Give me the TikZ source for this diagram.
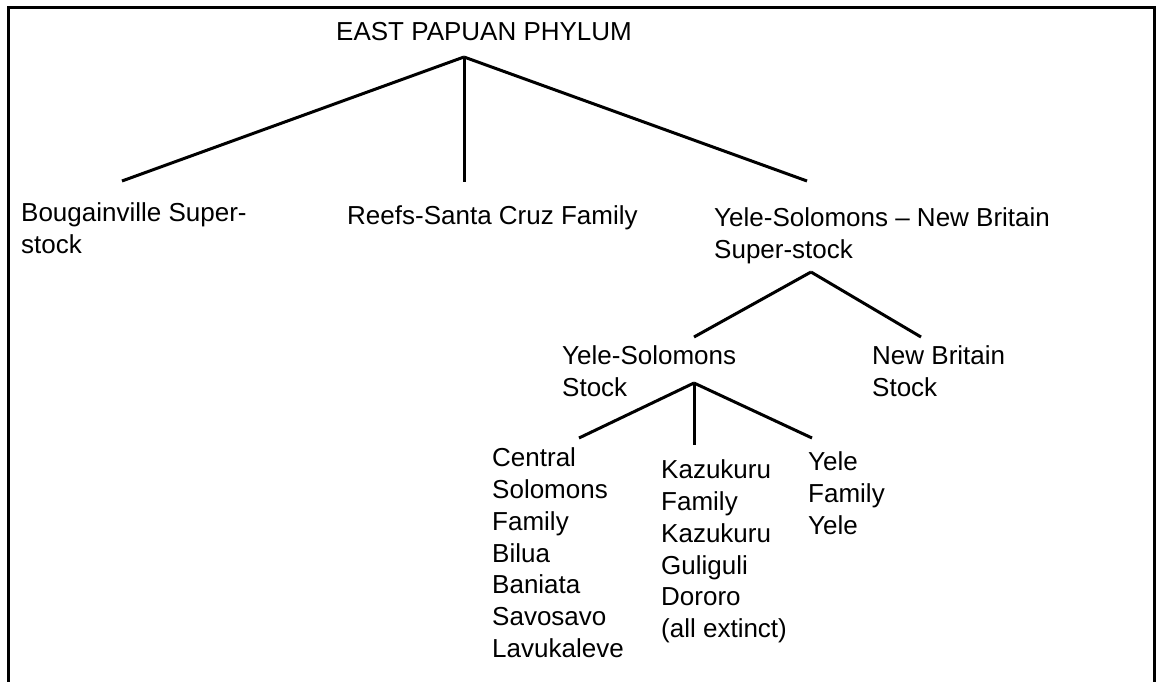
\documentclass[tikz,border=0pt]{standalone}
\usepackage{fontspec}
\setmainfont{Liberation Sans}

\begin{document}
\begin{tikzpicture}[x=1pt, y=-1pt,
		lbl/.style={anchor=north west, inner sep=0pt, align=left, yshift=22.26pt,
			font=\fontsize{26}{31.8}\selectfont, execute at begin node=\strut},
		branch/.style={line width=3pt}]
	\useasboundingbox (0,0) rectangle (1156,682);
	\draw[line width=3pt] (8.5,690) |- (1154.5,8) -- (1154.5,690);
	
	\node[lbl] (EP) at (336,40) {EAST PAPUAN PHYLUM};
	\node[lbl] (B) at (21,225) {Bougainville Super-\\stock};
	\node[lbl] (RSC) at (347,224) {Reefs-Santa Cruz Family};
	\node[lbl] (YSNB) at (714,230) {Yele-Solomons -- New Britain\\Super-stock};
	\node[lbl] (YS) at (562,368) {Yele-Solomons\\Stock};
	\node[lbl] (NB) at (872,368) {New Britain\\Stock};
	\node[lbl] (CS) at (492,470) {Central\\Solomons\\Family\\Bilua\\Baniata\\Savosavo\\Lavukaleve};
	\node[lbl] (K) at (661,482) {Kazukuru\\Family\\Kazukuru\\Guliguli\\Dororo\\(all extinct)};
	\node[lbl] (Y) at (808,474) {Yele\\Family\\Yele};
	
	% branch points and branch ends
	\coordinate (EPtop) at (464,57);
	\coordinate (Btop) at (122,181);
	\coordinate (RSCtop) at (464,182);
	\coordinate (YSNBtop) at (807,181);
	\coordinate (YSNBbot) at (811,272);
	\coordinate (YStop) at (694,337);
	\coordinate (NBtop) at (921,337);
	\coordinate (YSbot) at (694,383);
	\coordinate (CStop) at (579,438);
	\coordinate (Ktop) at (694,445);
	\coordinate (Ytop) at (812,438);
	
	\draw[branch] (EPtop) -- (Btop);
	\draw[branch] (EPtop) -- (RSCtop);
	\draw[branch] (EPtop) -- (YSNBtop);
	\draw[branch] (YSNBbot) -- (YStop);
	\draw[branch] (YSNBbot) -- (NBtop);
	\draw[branch] (YSbot) -- (CStop);
	\draw[branch] (YSbot) -- (Ktop);
	\draw[branch] (YSbot) -- (Ytop);
\end{tikzpicture}
\end{document}
